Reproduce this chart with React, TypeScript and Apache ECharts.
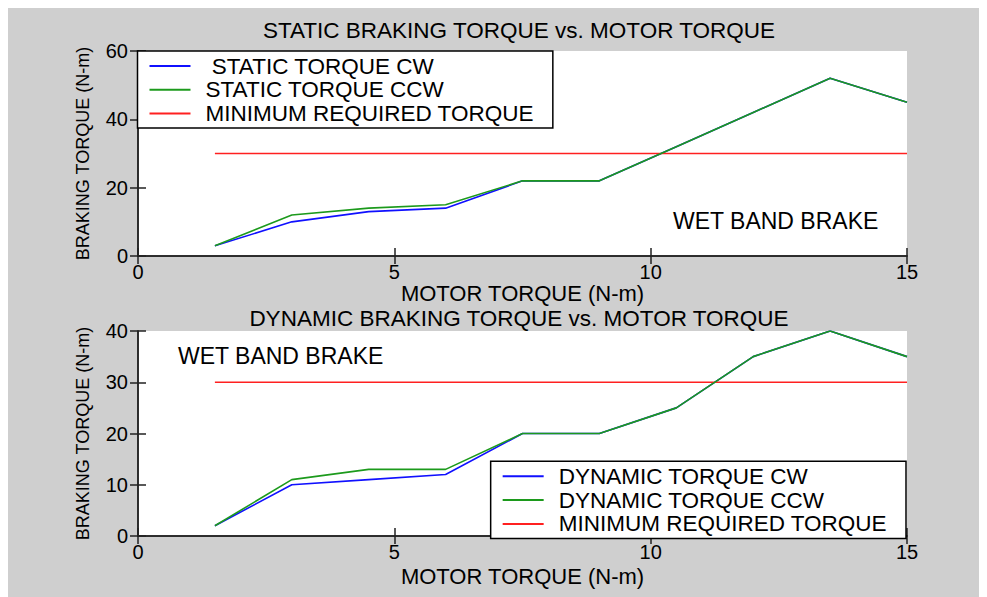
import { useEffect, useRef } from "react";
import * as echarts from "echarts";

const xValues = [1.5, 3, 4.5, 6, 7.5, 9, 10.5, 12, 13.5, 15];
const staticCW = [3, 10, 13, 14, 22, 22, 32, 42, 52, 45];
const staticCCW = [3, 12, 14, 15, 22, 22, 32, 42, 52, 45];
const dynamicCW = [2, 10, 11, 12, 20, 20, 25, 35, 40, 35];
const dynamicCCW = [2, 11, 13, 13, 20, 20, 25, 35, 40, 35];
const minRequiredX = [1.5, 15];
const minRequiredY = [30, 30];

const staticNames = [" STATIC TORQUE CW", "STATIC TORQUE CCW", "MINIMUM REQUIRED TORQUE"];
const dynamicNames = ["DYNAMIC TORQUE CW", "DYNAMIC TORQUE CCW", "MINIMUM REQUIRED TORQUE"];
const titles = ["STATIC BRAKING TORQUE vs. MOTOR TORQUE", "DYNAMIC BRAKING TORQUE vs. MOTOR TORQUE"];
const xAxisName = "MOTOR TORQUE (N-m)";
const yAxisName = "BRAKING TORQUE (N-m)";
const annotation = "WET BAND BRAKE";
const yMax = [60, 40];
const yInterval = [20, 10];

const FONT = "Liberation Sans, Arial, sans-serif";
const AXIS_COLOR = "#222";
const BLUE = "#1010ff";
const GREEN = "#1c9a1c";
const RED = "#ff2020";

function pairs(xs: number[], ys: number[]) {
  return xs.map((x, i) => [x, ys[i]]);
}

export default function App() {
  const ref = useRef<HTMLDivElement>(null);
  useEffect(() => {
    if (!ref.current) return;
    const chart = echarts.init(ref.current, undefined, { renderer: "svg" });
    const gridTops = [44, 324];
    const xNameGaps = [31, 40];

    const xAxes: any[] = [];
    const yAxes: any[] = [];
    [0, 1].forEach((g) => {
      const axisLine = { show: true, lineStyle: { color: AXIS_COLOR, width: 1.5 } };
      const tick = { show: true, inside: true, length: 8, lineStyle: { color: AXIS_COLOR, width: 1.5 } };
      xAxes.push({
        type: "value",
        gridIndex: g,
        position: "bottom",
        min: 0,
        max: 15,
        interval: 5,
        z: 4,
        axisLine,
        axisTick: tick,
        splitLine: { show: false },
        axisLabel: { show: true, margin: 6, fontSize: 20, color: "#000", fontFamily: FONT },
        name: xAxisName,
        nameLocation: "middle",
        nameGap: xNameGaps[g],
        nameTextStyle: { fontSize: 22, color: "#000", fontFamily: FONT, verticalAlign: "middle" },
      });
      xAxes.push({
        type: "value",
        gridIndex: g,
        position: "top",
        min: 0,
        max: 15,
        interval: 5,
        z: 4,
        axisLine,
        axisTick: tick,
        splitLine: { show: false },
        axisLabel: { show: false },
      });
      yAxes.push({
        type: "value",
        gridIndex: g,
        position: "left",
        min: 0,
        max: yMax[g],
        interval: yInterval[g],
        z: 4,
        axisLine,
        axisTick: tick,
        splitLine: { show: false },
        axisLabel: { show: true, margin: 10, fontSize: 20, color: "#000", fontFamily: FONT },
        name: yAxisName,
        nameLocation: "middle",
        nameRotate: 90,
        nameGap: 55,
        nameTextStyle: { fontSize: 18, color: "#000", fontFamily: FONT, verticalAlign: "middle" },
      });
      yAxes.push({
        type: "value",
        gridIndex: g,
        position: "right",
        min: 0,
        max: yMax[g],
        interval: yInterval[g],
        z: 4,
        axisLine,
        axisTick: tick,
        splitLine: { show: false },
        axisLabel: { show: false },
      });
    });

    const lineSeries = (name: string, g: number, data: number[][], color: string, z: number) => ({
      type: "line",
      name,
      xAxisIndex: g * 2,
      yAxisIndex: g * 2,
      data,
      symbol: "none",
      lineStyle: { color, width: 1.6 },
      itemStyle: { color },
      z,
      silent: true,
    });

    const legendCommon = {
      orient: "vertical",
      icon: "rect",
      itemWidth: 41,
      itemHeight: 2,
      itemGap: 0.8,
      padding: [3.5, 19, 3, 12],
      backgroundColor: "#fff",
      borderColor: "#000",
      borderWidth: 1.5,
      selectedMode: false,
      textStyle: { fontSize: 22.5, color: "#000", fontFamily: FONT, padding: [0, 0, 0, 10] },
      z: 10,
    };

    chart.setOption({
      animation: false,
      backgroundColor: "#cfcfcf",
      title: [
        {
          text: titles[0],
          left: 511,
          top: 12,
          textAlign: "center",
          padding: 0,
          textStyle: { fontSize: 22.5, fontWeight: "normal", color: "#000", fontFamily: FONT },
        },
        {
          text: titles[1],
          left: 511,
          top: 300,
          textAlign: "center",
          padding: 0,
          textStyle: { fontSize: 22.5, fontWeight: "normal", color: "#000", fontFamily: FONT },
        },
      ],
      grid: gridTops.map((top) => ({
        left: 130,
        top,
        width: 769,
        height: 205,
        show: true,
        backgroundColor: "#fff",
        borderWidth: 0,
        z: 0,
      })),
      xAxis: xAxes,
      yAxis: yAxes,
      legend: [
        { ...legendCommon, data: staticNames, left: 129.5, top: 44 },
        { ...legendCommon, data: dynamicNames, right: 81, top: 454.3 },
      ],
      graphic: [
        {
          type: "text",
          x: 665,
          y: 213.7,
          style: { text: annotation, fill: "#000", font: `23px ${FONT}`, verticalAlign: "middle" },
          z: 5,
        },
        {
          type: "text",
          x: 170,
          y: 348.7,
          style: { text: annotation, fill: "#000", font: `23px ${FONT}`, verticalAlign: "middle" },
          z: 5,
        },
      ],
      series: [
        lineSeries(staticNames[0], 0, pairs(xValues, staticCW), BLUE, 2),
        lineSeries(staticNames[1], 0, pairs(xValues, staticCCW), GREEN, 3),
        lineSeries(staticNames[2], 0, pairs(minRequiredX, minRequiredY), RED, 2),
        lineSeries(dynamicNames[0], 1, pairs(xValues, dynamicCW), BLUE, 2),
        lineSeries(dynamicNames[1], 1, pairs(xValues, dynamicCCW), GREEN, 3),
        lineSeries(dynamicNames[2], 1, pairs(minRequiredX, minRequiredY), RED, 2),
      ],
    });
    return () => chart.dispose();
  }, []);
  return <div ref={ref} style={{ width: 979, height: 590, marginTop: -1 }} />;
}
